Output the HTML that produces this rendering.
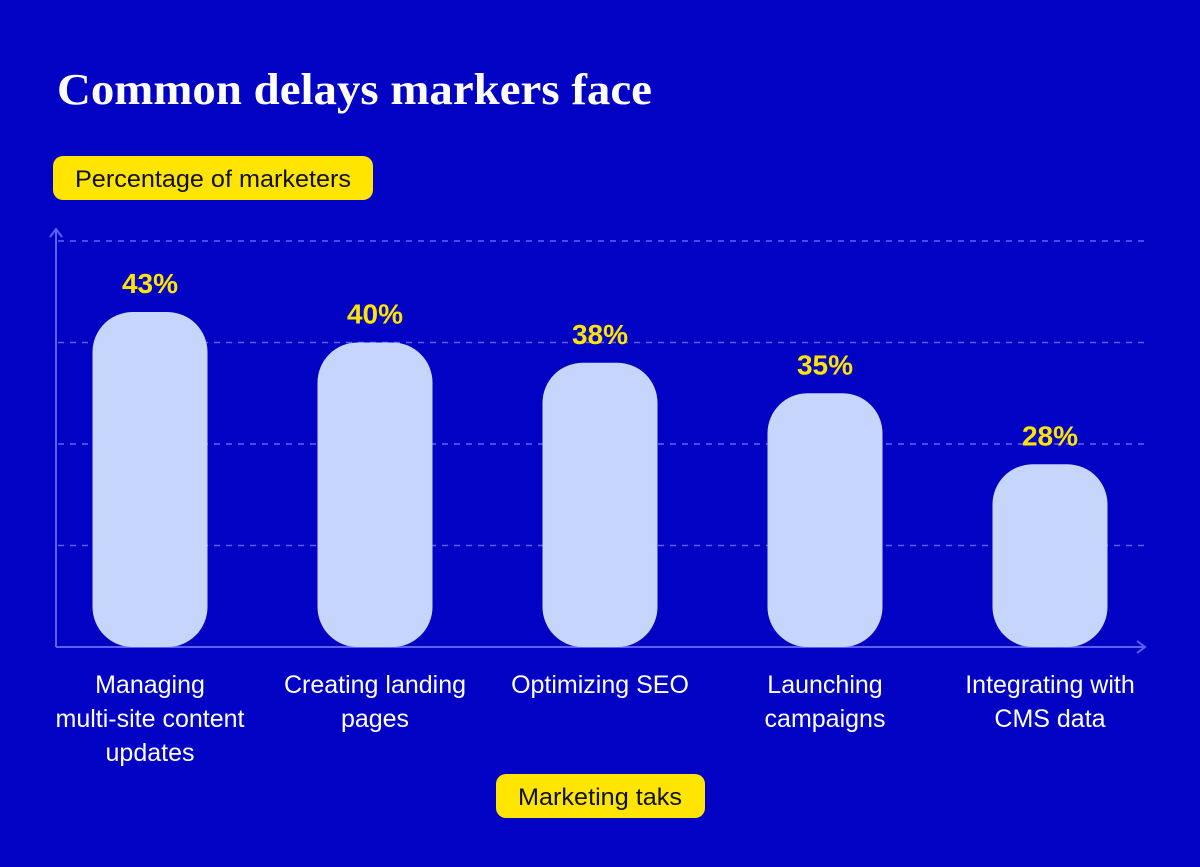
<!DOCTYPE html>
<html><head><meta charset="utf-8"><style>
html,body{margin:0;padding:0;background:#0202c4;}
svg{display:block;}
</style></head><body>
<svg width="1200" height="867" xmlns="http://www.w3.org/2000/svg">
<rect width="1200" height="867" fill="#0202c4"/>
<text x="57" y="104" fill="#ffffff" font-family="Liberation Serif, serif" font-weight="bold" font-size="44" textLength="595" lengthAdjust="spacingAndGlyphs">Common delays markers face</text>
<g>
<rect x="53" y="156" width="320" height="44" rx="10" fill="#ffe500"/>
<text x="213" y="187" text-anchor="middle" fill="#111" font-family="Liberation Sans, sans-serif" font-size="24" textLength="276" lengthAdjust="spacingAndGlyphs">Percentage of marketers</text>
</g>
<g id="grid"></g>
<g id="axes" stroke="#5f5fff" stroke-width="2" fill="none">
<line x1="56" y1="230" x2="56" y2="647"/>
<polyline points="50,237 56,229 62,237"/>
<line x1="56" y1="647" x2="1144" y2="647"/>
<polyline points="1137,641 1145,647 1137,653"/>
</g>
<g id="bars"></g>
<g>
<rect x="496" y="774" width="209" height="44" rx="10" fill="#ffe500"/>
<text x="600" y="805" text-anchor="middle" fill="#111" font-family="Liberation Sans, sans-serif" font-size="24" textLength="164" lengthAdjust="spacingAndGlyphs">Marketing taks</text>
</g>
</svg>
<script>
const categories=[["Managing","multi-site content","updates"],["Creating landing","pages"],["Optimizing SEO"],["Launching","campaigns"],["Integrating with","CMS data"]];
const values=[43,40,38,35,28];
const valueLabels=["43%","40%","38%","35%","28%"];
const gridTicks=[20,30,40,50];
const NS="http://www.w3.org/2000/svg";
const y0=647,yTop=241,vMin=10,vMax=50;
function y(v){return y0-(v-vMin)/(vMax-vMin)*(y0-yTop);}
const xStart=150,step=225;
function x(i){return xStart+i*step;}
const grid=document.getElementById('grid');
gridTicks.forEach(t=>{
 const l=document.createElementNS(NS,'line');
 l.setAttribute('x1',58);l.setAttribute('x2',1144);
 l.setAttribute('y1',y(t));l.setAttribute('y2',y(t));
 l.setAttribute('stroke','#5f5fff');l.setAttribute('stroke-width','1.5');l.setAttribute('stroke-dasharray','6 6');
 
 
 grid.appendChild(l);
});
const bars=document.getElementById('bars');
values.forEach((v,i)=>{
 const w=115,top=y(v);
 const r=document.createElementNS(NS,'rect');
 r.setAttribute('x',x(i)-w/2);r.setAttribute('y',top);r.setAttribute('width',w);r.setAttribute('height',y0-top);
 r.setAttribute('rx',40);r.setAttribute('fill','#c5d5fb');
 
 
 bars.appendChild(r);
 const t=document.createElementNS(NS,'text');
 t.setAttribute('x',x(i));t.setAttribute('y',top-19);t.setAttribute('text-anchor','middle');
 t.setAttribute('fill','#ffe500');t.setAttribute('font-family','Liberation Sans, sans-serif');
 t.setAttribute('font-weight','bold');t.setAttribute('font-size','28');
 t.textContent=valueLabels[i];
 
 
 bars.appendChild(t);
 categories[i].forEach((line,j)=>{
  const c=document.createElementNS(NS,'text');
  c.setAttribute('x',x(i));c.setAttribute('y',693+j*34);c.setAttribute('text-anchor','middle');
  c.setAttribute('fill','#ffffff');c.setAttribute('font-family','Liberation Sans, sans-serif');c.setAttribute('font-size','25');
  c.textContent=line;
  
  
  bars.appendChild(c);
 });
});
</script>
</body></html>
